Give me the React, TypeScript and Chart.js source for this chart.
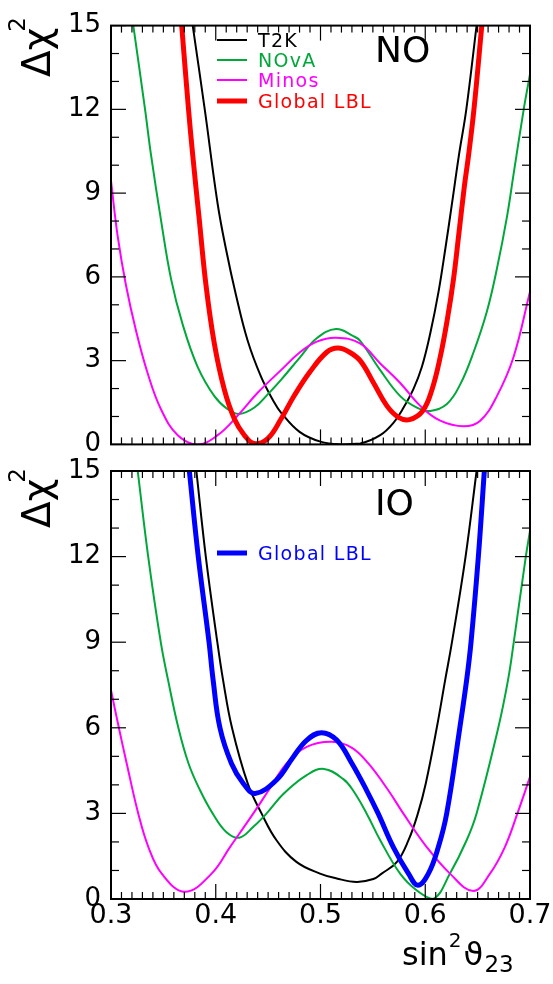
import React, { useEffect, useRef } from 'react';
import { Chart, registerables } from 'chart.js';

Chart.register(...registerables);

const FONT = '"DejaVu Sans", "Liberation Sans", sans-serif';

// ---------- axis ticks ----------
const xTickValues = [0.3, 0.4, 0.5, 0.6, 0.7];
const yTickValues = [0, 3, 6, 9, 12, 15];

// ---------- NO panel (normal ordering) ----------
const noLegendLabels = ['T2K', 'NOvA', 'Minos', 'Global LBL'];

const noT2kX = [0.378, 0.3895, 0.4018, 0.4098, 0.4193, 0.4305, 0.4432, 0.4559, 0.4623, 0.48, 0.5, 0.52, 0.538, 0.557, 0.57, 0.5793, 0.5889, 0.5968, 0.6048, 0.6127, 0.6191, 0.6255, 0.6322, 0.6392, 0.649];
const noT2kY = [15, 12, 8.62, 6.99, 5.35, 3.71, 2.43, 1.5, 1.14, 0.45, 0.1, 0.0, 0.03, 0.33, 0.79, 1.32, 2.0, 2.78, 3.98, 5.47, 6.99, 8.62, 10.37, 12, 15];

const noNovaX = [0.3213, 0.3325, 0.3382, 0.3477, 0.3573, 0.3684, 0.3827, 0.3987, 0.4114, 0.4225, 0.4369, 0.4496, 0.4623, 0.4804, 0.4964, 0.5148, 0.5313, 0.5379, 0.557, 0.5761, 0.592, 0.6048, 0.6207, 0.6334, 0.6461, 0.6589, 0.6684, 0.678, 0.6843, 0.694, 0.7];
const noNovaY = [15, 12, 10.37, 8.04, 5.93, 4.3, 2.78, 1.73, 1.26, 1.09, 1.32, 1.79, 2.31, 3.12, 3.8, 4.13, 3.88, 3.71, 2.66, 1.73, 1.32, 1.2, 1.45, 2.15, 3.3, 4.77, 6.29, 8.15, 9.67, 12, 13.26];

const noMinosX = [0.3, 0.3064, 0.3143, 0.3239, 0.335, 0.3477, 0.3637, 0.3827, 0.4018, 0.4209, 0.44, 0.4623, 0.4804, 0.4964, 0.5148, 0.5377, 0.557, 0.5761, 0.5952, 0.6143, 0.6366, 0.6525, 0.6684, 0.6843, 0.7];
const noMinosY = [9.44, 7.45, 5.7, 4.07, 2.55, 1.26, 0.33, 0.0, 0.33, 1.03, 1.85, 2.66, 3.3, 3.68, 3.82, 3.62, 2.9, 2.2, 1.38, 0.85, 0.65, 0.85, 1.73, 3.13, 5.47];

const noGlobalX = [0.3675, 0.374, 0.378, 0.3843, 0.3907, 0.3987, 0.4082, 0.4178, 0.4273, 0.4365, 0.4496, 0.4623, 0.475, 0.49, 0.5059, 0.5166, 0.527, 0.5379, 0.5507, 0.5634, 0.5745, 0.585, 0.5975, 0.6064, 0.6143, 0.6213, 0.627, 0.6318, 0.6372, 0.6414, 0.6465, 0.654];
const noGlobalY = [15, 12, 10.37, 8.04, 5.7, 3.6, 1.96, 0.91, 0.33, 0.03, 0.21, 0.91, 1.75, 2.6, 3.3, 3.45, 3.32, 3.0, 2.2, 1.38, 0.97, 0.89, 1.2, 1.96, 3.13, 4.53, 5.93, 7.45, 9.2, 10.37, 12, 15];

// ---------- IO panel (inverted ordering) ----------
const ioLegendLabels = ['Global LBL'];

const ioT2kX = [0.3815, 0.3905, 0.4015, 0.407, 0.4155, 0.4305, 0.4437, 0.458, 0.477, 0.4995, 0.5155, 0.5345, 0.5504, 0.5584, 0.573, 0.584, 0.593, 0.6005, 0.611, 0.619, 0.6255, 0.6385, 0.649];
const ioT2kY = [15, 12, 9, 7.67, 6.0, 4.05, 3.0, 2.06, 1.3, 0.89, 0.72, 0.6, 0.7, 0.89, 1.3, 2.06, 3.0, 4.05, 6.0, 7.67, 9, 12, 15];

const ioNovaX = [0.3255, 0.3355, 0.3475, 0.3545, 0.3643, 0.374, 0.385, 0.397, 0.41, 0.4225, 0.4359, 0.4486, 0.4645, 0.4868, 0.5033, 0.5218, 0.531, 0.544, 0.557, 0.576, 0.592, 0.6077, 0.6236, 0.6395, 0.649, 0.6697, 0.679, 0.6845, 0.696, 0.7];
const ioNovaY = [15, 12, 9, 7.67, 6.0, 4.75, 3.81, 3.0, 2.35, 2.15, 2.53, 3.0, 3.68, 4.34, 4.56, 4.2, 3.81, 3.0, 2.06, 0.89, 0.3, 0.0, 0.89, 2.06, 3.0, 6.0, 7.67, 9, 12, 12.9];

const ioMinosX = [0.3, 0.3075, 0.315, 0.326, 0.3357, 0.3484, 0.3706, 0.396, 0.4136, 0.4359, 0.4505, 0.4677, 0.4868, 0.5107, 0.53, 0.5457, 0.5647, 0.579, 0.6014, 0.6236, 0.6459, 0.6618, 0.676, 0.688, 0.7];
const ioMinosY = [7.32, 6.0, 4.75, 3.0, 1.82, 0.89, 0.25, 0.89, 1.82, 3.0, 3.81, 4.75, 5.33, 5.51, 5.3, 4.75, 3.81, 3.0, 1.82, 0.89, 0.28, 0.89, 1.82, 3.0, 4.28];

const ioGlobalX = [0.3748, 0.3833, 0.3936, 0.3975, 0.404, 0.415, 0.4263, 0.4375, 0.458, 0.474, 0.487, 0.501, 0.5155, 0.53, 0.544, 0.555, 0.5695, 0.584, 0.593, 0.603, 0.6125, 0.6205, 0.633, 0.6395, 0.6437, 0.6507, 0.6564];
const ioGlobalY = [15, 12, 9, 7.67, 6.0, 4.75, 4.05, 3.7, 4.17, 4.98, 5.57, 5.83, 5.57, 4.75, 3.81, 3.0, 1.82, 0.89, 0.48, 0.89, 1.82, 3.0, 6.0, 7.67, 9, 12, 15];

const BLACK = '#000000';
const GREEN = '#00a83a';
const MAGENTA = '#ff00ff';
const RED = '#ff0000';
const BLUE = '#0000ff';

const pts = (xs: number[], ys: number[]) => xs.map((x, i) => ({ x, y: ys[i] }));

const ds = (label: string, xs: number[], ys: number[], color: string, width: number, order: number) => ({
  label,
  data: pts(xs, ys),
  borderColor: color,
  backgroundColor: color,
  borderWidth: width,
  pointRadius: 0,
  fill: false,
  tension: 0.4,
  borderJoinStyle: 'round' as const,
  order,
});

type PanelCfg = {
  name: string;
  nameY: number;
  legend: { label: string; color: string; width: number; y: number }[];
  yTitleStart: number;
  xTitle: boolean;
};

const panelPlugin = {
  id: 'panelDeco',
  afterDatasetsDraw(chart: any, _args: any, opts: any) {
    const cfg: PanelCfg = opts.cfg;
    const { ctx, chartArea: a, scales } = chart;
    const xs = scales.x;
    const ys = scales.y;
    ctx.save();
    ctx.strokeStyle = '#000';
    ctx.lineWidth = 1.2;
    const line = (x1: number, y1: number, x2: number, y2: number) => {
      ctx.beginPath();
      ctx.moveTo(x1, y1);
      ctx.lineTo(x2, y2);
      ctx.stroke();
    };
    for (let i = 0; i <= 40; i++) {
      const px = xs.getPixelForValue(0.3 + i * 0.01);
      const len = i % 10 === 0 ? 15 : 7;
      line(px, a.bottom, px, a.bottom - len);
      line(px, a.top, px, a.top + len);
    }
    for (let v = 0; v <= 15; v++) {
      const py = ys.getPixelForValue(v);
      const len = v % 3 === 0 ? 15 : 8;
      line(a.left, py, a.left + len, py);
      line(a.right, py, a.right - len, py);
    }
    ctx.lineWidth = 2;
    ctx.strokeRect(a.left, a.top, a.right - a.left, a.bottom - a.top);

    // panel name
    ctx.fillStyle = '#000';
    ctx.font = `36px ${FONT}`;
    ctx.textAlign = 'left';
    ctx.textBaseline = 'alphabetic';
    ctx.fillText(cfg.name, 375, cfg.nameY);

    // legend
    ctx.font = `19px ${FONT}`;
    (ctx as any).letterSpacing = '1.3px';
    cfg.legend.forEach((it) => {
      ctx.strokeStyle = it.color;
      ctx.lineWidth = it.width;
      line(217, it.y, 247, it.y);
      ctx.fillStyle = it.color;
      ctx.fillText(it.label, 258, it.y + 7);
    });
    (ctx as any).letterSpacing = '0px';

    // y title (rotated)
    ctx.fillStyle = '#000';
    ctx.translate(50, cfg.yTitleStart);
    ctx.rotate(-Math.PI / 2);
    ctx.font = `39px ${FONT}`;
    ctx.fillText('Δχ', 0, 0);
    const w = ctx.measureText('Δχ').width;
    ctx.font = `23px ${FONT}`;
    ctx.fillText('2', w - 4, -25);
    ctx.setTransform(1, 0, 0, 1, 0, 0);
    ctx.restore();

    if (cfg.xTitle) {
      ctx.save();
      ctx.fillStyle = '#000';
      ctx.textBaseline = 'alphabetic';
      ctx.textAlign = 'left';
      let x = 402;
      const base = a.bottom + 66;
      ctx.font = `32px ${FONT}`;
      ctx.fillText('sin', x, base);
      x += ctx.measureText('sin').width + 1;
      ctx.font = `20px ${FONT}`;
      ctx.fillText('2', x, base - 18);
      x += ctx.measureText('2').width + 2;
      ctx.font = `32px ${FONT}`;
      ctx.fillText('ϑ', x, base);
      x += ctx.measureText('ϑ').width + 1;
      ctx.font = `23px ${FONT}`;
      ctx.fillText('23', x, base + 7);
      ctx.restore();
    }
  },
};

function makeOptions(showX: boolean, cfg: PanelCfg, padTop: number, padBottom: number) {
  const xScale: any = {
    type: 'linear' as const,
    min: 0.3,
    max: 0.7,
    display: showX,
    grid: { display: false, drawTicks: false },
    border: { display: false },
    afterBuildTicks: (scale: any) => {
      scale.ticks = xTickValues.map((v) => ({ value: v }));
    },
    ticks: {
      color: '#000',
      font: { family: FONT, size: 27 },
      padding: 1,
      maxRotation: 0,
      callback: (v: any) => Number(v).toFixed(1),
    },
  };
  if (showX) {
    xScale.afterFit = (scale: any) => {
      scale.height = 85;
    };
  }
  return {
    responsive: false,
    maintainAspectRatio: false,
    animation: false as const,
    layout: { padding: { left: 0, right: 23, top: padTop, bottom: padBottom } },
    plugins: {
      legend: { display: false },
      tooltip: { enabled: false },
      panelDeco: { cfg },
    },
    scales: {
      x: xScale,
      y: {
        type: 'linear' as const,
        min: 0,
        max: 15,
        grid: { display: false, drawTicks: false },
        border: { display: false },
        afterBuildTicks: (scale: any) => {
          scale.ticks = yTickValues.map((v) => ({ value: v }));
        },
        ticks: {
          color: '#000',
          font: { family: FONT, size: 26 },
          padding: 10,
        },
        afterFit: (scale: any) => {
          scale.width = 111;
        },
      },
    },
  };
}

export default function App() {
  const topRef = useRef<HTMLCanvasElement>(null);
  const botRef = useRef<HTMLCanvasElement>(null);

  useEffect(() => {
    const noCfg: PanelCfg = {
      name: 'NO',
      nameY: 62,
      yTitleStart: 77,
      xTitle: false,
      legend: [
        { label: noLegendLabels[0], color: BLACK, width: 2, y: 40 },
        { label: noLegendLabels[1], color: GREEN, width: 2, y: 60 },
        { label: noLegendLabels[2], color: MAGENTA, width: 2, y: 80 },
        { label: noLegendLabels[3], color: RED, width: 5, y: 101 },
      ],
    };
    const ioCfg: PanelCfg = {
      name: 'IO',
      nameY: 75,
      yTitleStart: 88,
      xTitle: true,
      legend: [{ label: ioLegendLabels[0], color: BLUE, width: 5, y: 113 }],
    };

    const top = new Chart(topRef.current!, {
      type: 'line',
      data: {
        datasets: [
          ds('T2K', noT2kX, noT2kY, BLACK, 2, 3),
          ds('NOvA', noNovaX, noNovaY, GREEN, 2, 2),
          ds('Minos', noMinosX, noMinosY, MAGENTA, 2, 1),
          ds('Global LBL', noGlobalX, noGlobalY, RED, 5, 0),
        ],
      },
      options: makeOptions(false, noCfg, 17, 24) as any,
      plugins: [panelPlugin],
    });

    const bot = new Chart(botRef.current!, {
      type: 'line',
      data: {
        datasets: [
          ds('T2K', ioT2kX, ioT2kY, BLACK, 2, 3),
          ds('NOvA', ioNovaX, ioNovaY, GREEN, 2, 2),
          ds('Minos', ioMinosX, ioMinosY, MAGENTA, 2, 1),
          ds('Global LBL', ioGlobalX, ioGlobalY, BLUE, 5, 0),
        ],
      },
      options: makeOptions(true, ioCfg, 31, 0) as any,
      plugins: [panelPlugin],
    });

    return () => {
      top.destroy();
      bot.destroy();
    };
  }, []);

  return (
    <div style={{ position: 'absolute', left: 0, top: 0, width: 553, height: 984, background: '#fff' }}>
      <canvas
        ref={topRef}
        width={553}
        height={470}
        style={{ position: 'absolute', left: 0, top: 0, width: 553, height: 470 }}
      />
      <canvas
        ref={botRef}
        width={553}
        height={544}
        style={{ position: 'absolute', left: 0, top: 440, width: 553, height: 544 }}
      />
    </div>
  );
}
